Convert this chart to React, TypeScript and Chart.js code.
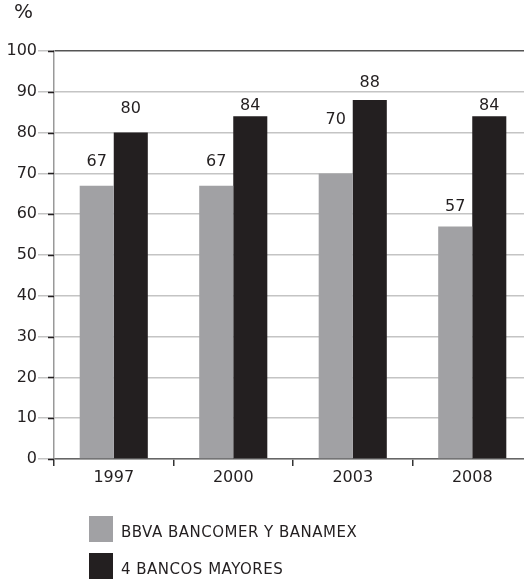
import { useEffect, useRef } from "react";
import { Chart, registerables } from "chart.js";

Chart.register(...registerables);

// ---- data ----
const categories = ["1997", "2000", "2003", "2008"];
const bbvaBanamex = [67, 67, 70, 57];
const cuatroBancos = [80, 84, 88, 84];
const seriesNames = ["BBVA BANCOMER Y BANAMEX", "4 BANCOS MAYORES"];
const yMin = 0;
const yMax = 100;
const yStep = 10;
const unitLabel = "%";

// ---- style ----
const FONT = "'DejaVu Sans', 'Noto Sans', sans-serif";
const TEXT = "#231f20";
const GRAY = "#a1a1a4";
const BLACK = "#231f20";

const valueLabels = {
  id: "valueLabels",
  afterDatasetsDraw(chart: any, _args: any, opts: any) {
    const ctx = chart.ctx;
    ctx.save();
    ctx.font = `16px ${FONT}`;
    ctx.fillStyle = TEXT;
    ctx.textAlign = "center";
    ctx.textBaseline = "middle";
    chart.data.datasets.forEach((ds: any, di: number) => {
      const meta = chart.getDatasetMeta(di);
      meta.data.forEach((el: any, i: number) => {
        const off = opts.offsets[di][i];
        ctx.fillText(String(ds.data[i]), el.x, el.y - off);
      });
    });
    ctx.restore();
  },
};

const decor = {
  id: "decor",
  afterDraw(chart: any, _args: any, opts: any) {
    const ctx = chart.ctx;
    const y = chart.scales.y;
    const area = chart.chartArea;
    ctx.save();
    // dark short ticks on y axis
    ctx.strokeStyle = TEXT;
    ctx.lineWidth = 1.5;
    y.ticks.forEach((t: any) => {
      const py = Math.round(y.getPixelForValue(t.value)) + 0.5;
      ctx.beginPath();
      ctx.moveTo(area.left - 6, py);
      ctx.lineTo(area.left, py);
      ctx.stroke();
    });
    // unit label
    ctx.font = `20px ${FONT}`;
    ctx.fillStyle = TEXT;
    ctx.textAlign = "left";
    ctx.textBaseline = "alphabetic";
    ctx.fillText(opts.unit, 14, 18);
    // legend (vertical list)
    const lg = opts.legend;
    chart.data.datasets.forEach((ds: any, i: number) => {
      const top = lg.y + i * lg.gap;
      ctx.fillStyle = ds.backgroundColor;
      ctx.fillRect(lg.x, top, lg.box, lg.boxH);
      ctx.fillStyle = TEXT;
      ctx.font = `15px ${FONT}`;
      try {
        (ctx as any).letterSpacing = "0.5px";
      } catch (e) {}
      ctx.textBaseline = "middle";
      ctx.fillText(ds.label, lg.x + lg.box + 8, top + lg.boxH / 2 + 4);
      try {
        (ctx as any).letterSpacing = "0px";
      } catch (e) {}
    });
    ctx.restore();
  },
};

export default function App() {
  const ref = useRef<HTMLCanvasElement | null>(null);

  useEffect(() => {
    if (!ref.current) return;
    const chart = new Chart(ref.current, {
      type: "bar",
      data: {
        labels: categories,
        datasets: [
          {
            label: seriesNames[0],
            data: bbvaBanamex,
            backgroundColor: GRAY,
            borderWidth: 0,
            categoryPercentage: 0.57,
            barPercentage: 1,
          },
          {
            label: seriesNames[1],
            data: cuatroBancos,
            backgroundColor: BLACK,
            borderWidth: 0,
            categoryPercentage: 0.57,
            barPercentage: 1,
          },
        ],
      },
      options: {
        responsive: false,
        animation: false,
        devicePixelRatio: 1,
        layout: { padding: { top: 51, left: 0, right: 0, bottom: 0 } },
        plugins: {
          legend: { display: false },
          tooltip: { enabled: false },
          valueLabels: {
            offsets: [
              [24, 24, 54, 20],
              [24, 10, 17, 10],
            ],
          },
          decor: {
            unit: unitLabel,
            legend: { x: 89, y: 516, box: 24, boxH: 26, gap: 37 },
          },
        } as any,
        scales: {
          x: {
            afterFit(scale: any) {
              scale.height = 120;
            },
            grid: {
              display: true,
              drawOnChartArea: false,
              drawTicks: true,
              tickLength: 7,
              tickColor: "#333",
              lineWidth: 1.5,
              offset: true,
            },
            border: { display: true, color: "#666", width: 1.5 },
            ticks: {
              font: { family: FONT, size: 16 },
              color: TEXT,
              padding: 2,
            },
          },
          y: {
            min: yMin,
            max: yMax,
            afterFit(scale: any) {
              scale.width = 54;
            },
            grid: {
              color: (c: any) => (c.tick && c.tick.value === yMax ? "#555" : "#c4c4c4"),
              lineWidth: 1.5,
              tickLength: 16,
              tickColor: "#c4c4c4",
            },
            border: { display: true, color: "#999", width: 1.5 },
            ticks: {
              stepSize: yStep,
              font: { family: FONT, size: 16 },
              color: TEXT,
              padding: 1,
            },
          },
        },
      },
      plugins: [valueLabels, decor],
    });
    return () => chart.destroy();
  }, []);

  return (
    <div
      style={{
        position: "fixed",
        left: 0,
        top: 0,
        width: 524,
        height: 579,
        overflow: "hidden",
        background: "#fff",
      }}
    >
      <canvas ref={ref} width={532} height={579} style={{ display: "block" }} />
    </div>
  );
}
